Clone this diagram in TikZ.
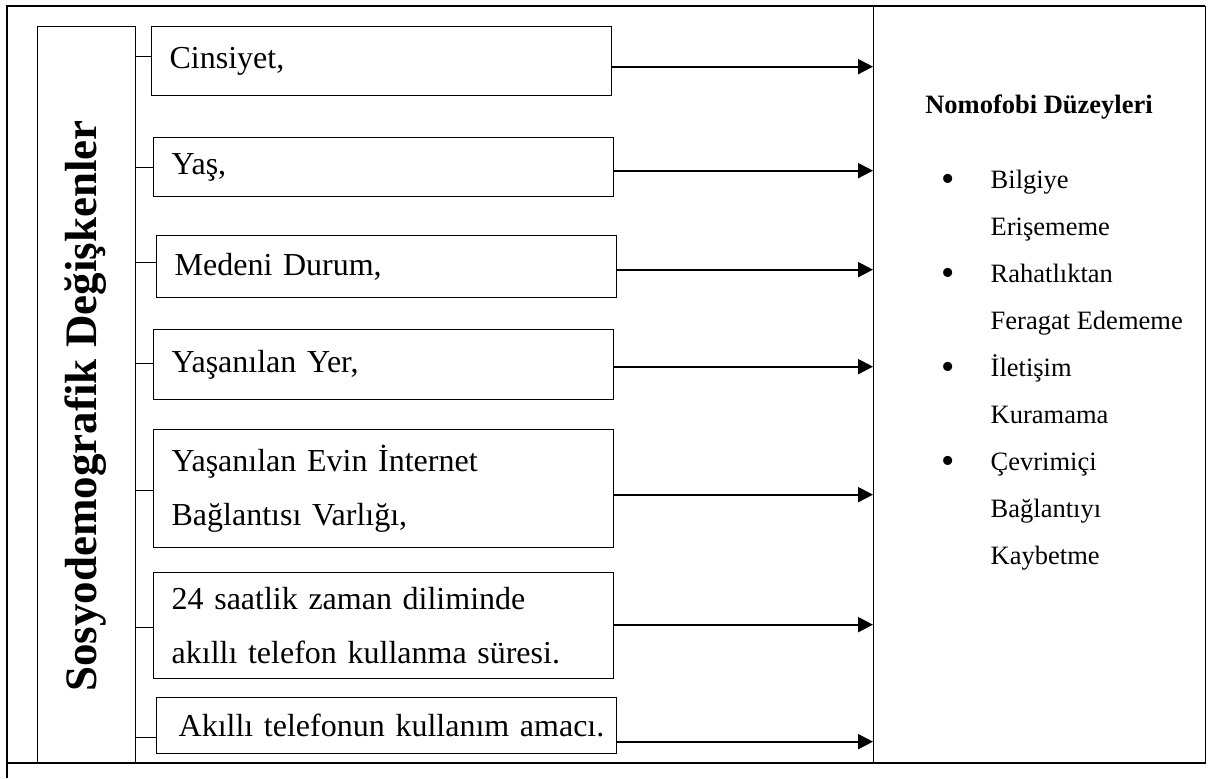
\documentclass[tikz,border=0pt]{standalone}
\usepackage{fontspec}
\setmainfont{Liberation Serif}
\usepackage{tikz}
\usetikzlibrary{arrows.meta,positioning}
\newcommand{\NFmadde}{\raisebox{-1.8pt}{\fontsize{19}{19}\selectfont\textbullet}}

\begin{document}
\begin{tikzpicture}[x=0.5pt, y=-0.5pt,
    degisken/.style={draw, line width=0.65pt, anchor=north west, inner xsep=9pt, inner ysep=0pt,
        text width=212pt, align=left, font=\fontsize{16}{27}\selectfont},
    cerceve/.style={draw, line width=0.65pt, anchor=north west},
    kol/.style={line width=0.65pt},
    ok/.style={-{Triangle[length=7.5pt,width=7.5pt]}, line width=1pt}]
    \useasboundingbox (0,0) rectangle (1208,778);
    % dis cerceve
    \draw[kol] (7,778) -- (7,6) -- (1205,6);
    \draw[kol] (7,763) -- (1205,763);

    % sol: sosyodemografik degiskenler
    \node (SD) [cerceve, minimum width=49pt, minimum height=368.5pt] at (37,26) {};
    \node (SDbaslik) [rotate=90, font=\fontsize{22.5}{27}\selectfont\bfseries] at (86,406) {Sosyodemografik Değişkenler};

    \node (D1) [degisken, minimum height=34.5pt] at (151,26) {Cinsiyet,};
    \node (D2) [degisken, minimum height=29.5pt] at (153,137) {Yaş,};
    \node (D3) [degisken, minimum height=31pt] at (156,235) {Medeni Durum,};
    \node (D4) [degisken, minimum height=35pt] at (153,329) {Yaşanılan Yer,};
    \node (D5) [degisken, minimum height=59pt] at (153,429) {Yaşanılan Evin İnternet\\Bağlantısı Varlığı,};
    \node (D6) [degisken, minimum height=53pt] at (153,572) {24 saatlik zaman diliminde\\akıllı telefon kullanma süresi.};
    \node (D7) [degisken, minimum height=28pt, inner xsep=0pt, text width=230pt] at (156,697) {\hspace*{11pt}Akıllı telefonun kullanım amacı.};

    % sag: nomofobi duzeyleri
    \node (NF) [cerceve, minimum width=166pt, minimum height=378.5pt] at (873,6) {};
    \node (NFbaslik) [font=\fontsize{13.25}{16}\selectfont\bfseries] at (1039,107) {Nomofobi Düzeyleri};
    \node (NFliste) [anchor=base west, inner sep=0pt, font=\fontsize{13.25}{23.5}\selectfont] at (941,188) {%
        \begin{tabular}[t]{@{}l@{\hspace{18pt}}l@{}}
            \NFmadde & Bilgiye\\
                     & Erişememe\\
            \NFmadde & Rahatlıktan\\
                     & Feragat Edememe\\
            \NFmadde & İletişim\\
                     & Kuramama\\
            \NFmadde & Çevrimiçi\\
                     & Bağlantıyı\\
                     & Kaybetme
        \end{tabular}};

    % baglantilar
    \foreach \i/\a/\s in {1/-2.75/2.25, 2/-1.75/0, 3/-1.5/2, 4/-1/0.5, 5/-3/-1, 6/0.5/-1, 7/-8/-6} {
        \draw[kol] ([yshift=\s pt]D\i.west) -- ([yshift=\s pt]D\i.west -| SD.east);
        \draw[ok] ([yshift=\a pt]D\i.east) -- ([yshift=\a pt]D\i.east -| NF.west);
    }
\end{tikzpicture}
\end{document}
